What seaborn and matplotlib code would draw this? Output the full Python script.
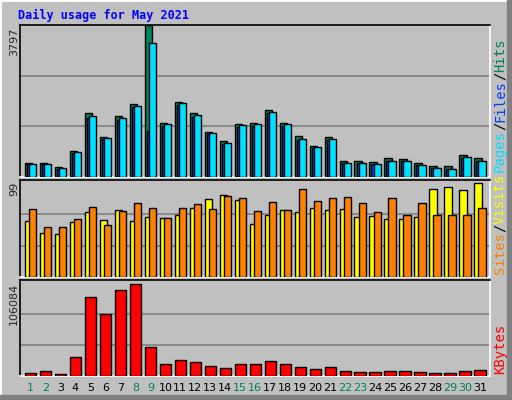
import matplotlib
matplotlib.use("Agg")
import matplotlib.pyplot as plt
import seaborn as sns
import pandas as pd
from matplotlib.patches import Rectangle

days = list(range(1, 32))
hits = [361, 361, 240, 644, 1598, 1005, 1520, 1812, 3797, 1340, 1881, 1598, 1134, 902, 1314, 1349,
        1684, 1340, 1031, 773, 1005, 412, 412, 387, 464, 438, 361, 266, 266, 541, 464]
files = [335, 335, 215, 619, 1520, 979, 1468, 1778, 3350, 1314, 1855, 1546, 1108, 850, 1289, 1314,
         1624, 1314, 954, 747, 954, 361, 361, 335, 412, 412, 309, 232, 206, 490, 412]
pages = [320, 320, 205, 600, 1480, 950, 1430, 1740, 1150, 1280, 1810, 1510, 1080, 830, 1260, 1280,
         1590, 1280, 930, 730, 930, 350, 350, 325, 400, 400, 300, 225, 200, 475, 400]
sites = [59, 46, 45, 58, 68, 60, 70, 59, 63, 62, 65, 73, 82, 86, 81, 56,
         65, 70, 68, 73, 70, 71, 63, 64, 61, 61, 63, 93, 95, 91, 99]
visits = [71, 53, 53, 61, 74, 55, 69, 78, 73, 62, 73, 77, 71, 85, 83, 69,
          79, 70, 93, 80, 83, 84, 78, 68, 83, 65, 78, 65, 65, 65, 73]
kbytes = [3700, 5200, 2600, 21600, 90800, 71800, 98600, 106084, 33900, 13800, 18200, 16000, 11500,
          9300, 13800, 13800, 17100, 13800, 10400, 8200, 10400, 6000, 4800, 4800, 6000, 6000, 4800,
          3700, 3700, 6000, 7100]
weekend = [1, 2, 8, 9, 15, 16, 22, 23, 29, 30]

sns.set_style("white")
BG = "#C0C0C0"
fig = plt.figure(figsize=(5.12, 4.0), dpi=100, facecolor=BG)

W, H = 512, 400
def ax_at(x0, y0, x1, y1):
    return fig.add_axes([x0 / W, 1 - y1 / H, (x1 - x0) / W, (y1 - y0) / H])

ax1 = ax_at(20, 25, 490, 177)
ax2 = ax_at(20, 180, 490, 277)
ax3 = ax_at(20, 280, 490, 376)

idx = [d - 1 for d in days]
lw = 1.0
ax1.bar([i - 0.375 for i in idx], hits, width=0.5, align="edge", color="#00805C", edgecolor="black", linewidth=lw, zorder=3)
ax1.bar([i - 0.24 for i in idx], pages, width=0.5, align="edge", color="#0040FF", edgecolor="black", linewidth=lw, zorder=4)
ax1.bar([i - 0.105 for i in idx], files, width=0.5, align="edge", color="#00E0FF", edgecolor="black", linewidth=lw, zorder=5)
ax2.bar([i - 0.375 for i in idx], sites, width=0.5, align="edge", color="#FFFF00", edgecolor="black", linewidth=lw, zorder=3)
ax2.bar([i - 0.105 for i in idx], visits, width=0.5, align="edge", color="#FF8000", edgecolor="black", linewidth=lw, zorder=4)
df = pd.DataFrame({"day": [str(d) for d in days], "kb": kbytes})
sns.barplot(data=df, x="day", y="kb", ax=ax3, color="#FF0000", saturation=1, width=0.75,
            edgecolor="black", linewidth=lw, zorder=3)

maxes = [max(hits), 99, max(kbytes)]
tops = [max(hits) * 1.0, 99 * 1.03, max(kbytes) * 1.04]
for ax, m, t in zip([ax1, ax2, ax3], maxes, tops):
    ax.set_facecolor(BG)
    ax.set_xlim(-0.7, 30.67)
    ax.set_ylim(0, t)
    for g in (m / 3, 2 * m / 3):
        ax.axhline(g, color="#808080", linewidth=1.2, zorder=1)
    ax.set_yticks([])
    ax.set_xlabel("")
    ax.set_ylabel("")
    for s in ("top", "left"):
        ax.spines[s].set_color("black")
    for s in ("bottom", "right"):
        ax.spines[s].set_color("white")
    for s in ax.spines.values():
        s.set_linewidth(1.2)
        s.set_visible(True)
    ax.set_xticks([])

ax3.set_xticks(idx)
ax3.set_xticklabels([str(d) for d in days], fontsize=8, family="DejaVu Sans")
ax3.tick_params(axis="x", length=0, pad=5)
for lab, d in zip(ax3.get_xticklabels(), days):
    lab.set_color("#00805C" if d in weekend else "black")

fig.patches.append(Rectangle((0, 0), 1, 1, transform=fig.transFigure, fill=False,
                             edgecolor="white", linewidth=2))
fig.patches.append(Rectangle((1 - 5 / W, 0), 5 / W, 1, transform=fig.transFigure, color="#808080"))
fig.patches.append(Rectangle((0, 0), 1, 5 / H, transform=fig.transFigure, color="#808080"))

fig.text(18 / W, 1 - 15 / H, "Daily usage for May 2021", color="#0000FF", fontsize=8.5,
         family="DejaVu Sans Mono", weight="bold", va="center", ha="left")

for txt, ytop in [("3797", 28), ("99", 182), ("106084", 283)]:
    fig.text(14 / W, 1 - ytop / H, txt, rotation=90, ha="center", va="top", fontsize=8,
             family="DejaVu Sans")

def right_label(parts, ybottom, size):
    step = size * 0.602 * 100 / 72
    y = ybottom
    for txt, col in parts:
        fig.text(500 / W, 1 - y / H, txt, rotation=90, ha="center", va="bottom",
                 rotation_mode="anchor" if False else "default", color=col,
                 fontsize=size, family="DejaVu Sans Mono")
        y -= step * len(txt)

right_label([("Pages", "#00E0FF"), ("/", "#000000"), ("Files", "#0040FF"), ("/", "#000000"),
             ("Hits", "#00805C")], 172, 10)
right_label([("Sites", "#FF8000"), ("/", "#000000"), ("Visits", "#FFFF00")], 274, 10)
right_label([("KBytes", "#FF0000")], 374, 10)

fig.savefig("out.png", dpi=100, facecolor=BG)
